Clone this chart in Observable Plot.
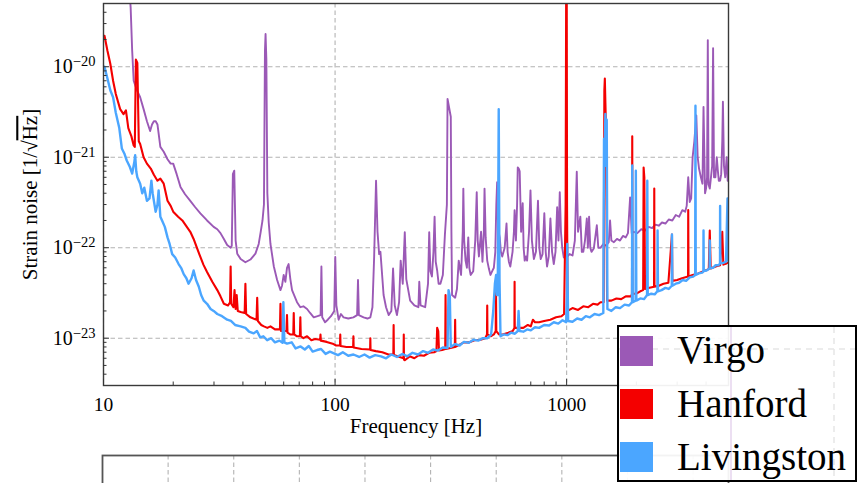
<!DOCTYPE html>
<html><head><meta charset="utf-8">
<script src="https://cdn.jsdelivr.net/npm/d3@7"></script>
<script src="https://cdn.jsdelivr.net/npm/@observablehq/plot@0.6"></script>
<style>
html,body{margin:0;padding:0;background:#fff;overflow:hidden;}
#wrap{position:relative;width:859px;height:483px;overflow:hidden;}
#main,#bottom,#legend{position:absolute;left:0;top:0;}
#bottom{top:454px;}
#legend{left:617px;top:325px;}
svg{background:transparent !important;}
</style>
</head><body>
<div id="wrap"><div id="main"></div><div id="bottom"></div><div id="legend"></div></div>
<script>
// ---- data (frequency Hz, amplitude spectral density 1/sqrt(Hz)) ----
const seriesNames = ["Virgo", "Hanford", "Livingston"];
const seriesColors = ["#9b59b6", "#f40000", "#4ba6ff"];

const virgo = [[12.9,8e-20],[13.1,4.5e-20],[13.3,1.5e-20],[13.5,7.0e-21],[13.9,5.6e-21],[14.4,4.6e-21],[14.9,3.4e-21],[15.4,2.5e-21],[15.9,1.95e-21],[16.2,2.3e-21],[16.5,2.5e-21],[16.8,2.5e-21],[17.1,2.3e-21],[17.6,1.3e-21],[18.2,1.15e-21],[18.9,9.5e-22],[19.5,8.5e-22],[20.0,8.5e-22],[20.7,6.5e-22],[21.5,4.7e-22],[22.5,3.9e-22],[23.7,3.3e-22],[24.9,2.8e-22],[26.2,2.4e-22],[28.0,2.0e-22],[29.9,1.7e-22],[31.0,1.6e-22],[32.0,1.45e-22],[33.1,1.25e-22],[34.2,1.07e-22],[35.4,1.0e-22],[35.8,1.05e-22],[36.2,6.5e-22],[36.7,7.1e-22],[37.2,1.2e-22],[37.8,8.6e-23],[39.1,7.5e-23],[41.0,6.9e-23],[43.1,7.4e-23],[45.3,8.6e-23],[46.8,1.1e-22],[47.7,1.48e-22],[48.6,2.0e-22],[49.3,3.0e-22],[49.8,1.5e-20],[50.1,2.3e-20],[50.5,1.2e-20],[51.0,4.0e-22],[51.7,1.9e-22],[52.6,1.1e-22],[54.4,6.2e-23],[56.2,4.4e-23],[58.1,3.4e-23],[59.0,3.8e-23],[60.0,5.0e-23],[61.0,4.2e-23],[62.0,6.0e-23],[63.0,6.6e-23],[64.1,4.5e-23],[65.2,3.4e-23],[68.5,2.5e-23],[70.8,2.2e-23],[73,2.25e-23],[75.7,2.1e-23],[78,1.9e-23],[80.9,1.7e-23],[84,1.75e-23],[86.6,1.8e-23],[87.3,6.2e-23],[88,1.7e-23],[90.5,1.5e-23],[93,1.6e-23],[96,1.75e-23],[99.2,2.0e-23],[100.2,7.9e-23],[101.3,2.3e-23],[103.6,1.6e-23],[106,1.85e-23],[108.8,1.7e-23],[114,1.65e-23],[120,1.7e-23],[124.5,1.8e-23],[125.6,4.4e-23],[126.7,1.8e-23],[132.8,1.7e-23],[138,1.65e-23],[142,1.7e-23],[145,2.2e-23],[147.5,8.0e-23],[150.3,5.5e-22],[152.5,1.5e-22],[155,8.5e-23],[157,9.0e-23],[162,3.0e-23],[166,2.2e-23],[170.5,1.8e-23],[175,2.0e-23],[178,5.9e-23],[181,2.3e-23],[185,1.8e-23],[189,2.5e-23],[192,7.2e-23],[196,4.0e-23],[200,1.48e-22],[203,4.5e-23],[211,2.6e-23],[220,2.3e-23],[229,2.2e-23],[231,4.2e-23],[234,2.3e-23],[245,2.2e-23],[252,4.0e-23],[255,1.48e-22],[258,5.5e-23],[262,4.8e-23],[266,9.0e-23],[269,2.2e-22],[272,7.0e-23],[276,5.6e-23],[280,4.0e-23],[285,4.0e-23],[292,5.0e-23],[298,1.38e-22],[304,3.0e-22],[306,4.4e-21],[311,3.5e-21],[316,2.8e-21],[318,1.5e-22],[320,3.0e-23],[330,2.8e-23],[336,3.5e-23],[342,7.2e-23],[350,5.0e-23],[356,1.5e-22],[358,4.5e-22],[361,1.2e-22],[366,7.2e-23],[371,6.0e-23],[376,1.3e-22],[380,6.0e-23],[385,5.0e-23],[395,5.5e-23],[403,1.2e-22],[409,4.1e-22],[413,1.2e-22],[418,8.0e-23],[427,1.5e-22],[433,7.0e-23],[439,1.5e-22],[442,4.5e-22],[447,1.3e-22],[454,7.2e-23],[462,5.8e-23],[469,5.0e-23],[477,5.5e-23],[485,6.0e-23],[492,9.0e-23],[497,3.0e-22],[501,5.3e-22],[506,1.6e-22],[514,1.3e-22],[520,9.0e-23],[527,8.0e-23],[540,1.0e-22],[550,1.85e-22],[556,9.0e-23],[563,7.0e-23],[571,6.2e-23],[584,9.0e-23],[592,1.5e-22],[596,2.6e-22],[604,1.2e-22],[611,3.0e-22],[615,7.7e-22],[621,7.5e-22],[627,7.0e-22],[636,1.5e-22],[646,3.1e-22],[652,1.0e-22],[659,7.2e-23],[667,8.0e-23],[675,7.2e-23],[688,1.5e-22],[698,4.3e-22],[708,1.2e-22],[722,7.5e-23],[737,9.0e-23],[752,3.3e-22],[762,1.0e-22],[773,7.5e-23],[787,8.5e-23],[801,2.4e-22],[812,9.0e-23],[823,6.2e-23],[837,8.0e-23],[851,2.1e-22],[865,9.0e-23],[880,6.6e-23],[895,9.0e-23],[910,2.8e-22],[922,1.2e-22],[934,4.1e-22],[945,1.5e-22],[957,1.0e-22],[972,7.8e-23],[990,8.5e-23],[1008,8.0e-23],[1030,8.5e-23],[1060,8.2e-23],[1085,1.2e-22],[1106,6.9e-22],[1120,1.5e-22],[1146,2.2e-22],[1163,9.0e-23],[1180,9.0e-23],[1200,1.2e-22],[1222,2.1e-22],[1235,1.0e-22],[1250,2.2e-22],[1265,1.0e-22],[1280,9.0e-23],[1310,9.8e-23],[1350,1.77e-22],[1370,1.0e-22],[1400,1.0e-22],[1440,1.1e-22],[1480,1.05e-22],[1520,1.15e-22],[1540,2.0e-22],[1560,1.2e-22],[1600,1.15e-22],[1650,1.25e-22],[1700,1.2e-22],[1750,1.35e-22],[1800,1.3e-22],[1840,1.45e-22],[1880,3.6e-22],[1910,1.45e-22],[1950,1.5e-22],[2020,1.45e-22],[2100,1.6e-22],[2180,1.55e-22],[2260,1.7e-22],[2340,1.65e-22],[2420,1.8e-22],[2500,1.75e-22],[2580,1.9e-22],[2670,1.85e-22],[2760,2.05e-22],[2860,2.0e-22],[2960,2.3e-22],[3060,2.2e-22],[3160,2.6e-22],[3250,2.5e-22],[3300,2.9e-22],[3350,6.0e-22],[3400,3.2e-22],[3450,3.5e-22],[3500,1.0e-21],[3560,1.5e-21],[3630,2.9e-21],[3680,1.0e-21],[3730,7.5e-22],[3800,6.0e-22],[3860,5.1e-22],[3900,3.6e-21],[3960,4.0e-22],[4000,4.5e-22],[4040,6.0e-22],[4070,1.97e-20],[4100,5.0e-22],[4150,4.5e-22],[4200,6.0e-22],[4250,8.0e-22],[4290,1.6e-20],[4330,6.0e-22],[4390,6.0e-22],[4450,1.0e-21],[4500,7.0e-22],[4540,5.5e-22],[4600,5.5e-22],[4650,6.5e-22],[4700,1.5e-21],[4730,4.1e-21],[4780,8.0e-22],[4840,6.0e-22],[4910,1.0e-21],[4960,5.5e-22],[5000,6.0e-22]];

const hanford = [[10.1,2.2e-20],[10.4,1.5e-20],[10.7,1.08e-20],[11.0,7.0e-21],[11.3,5.0e-21],[11.8,3.4e-21],[12.2,3.0e-21],[12.5,3.3e-21],[12.8,2.1e-21],[13.2,1.7e-21],[13.5,1.35e-21],[13.65,1.3e-21],[13.8,1.2e-20],[14.0,1.1e-20],[14.2,1.5e-21],[14.4,1.4e-21],[14.9,1.0e-21],[15.4,8.5e-22],[16.0,7.5e-22],[16.5,6.4e-22],[17.1,5.5e-22],[17.6,5.8e-22],[18.2,5.1e-22],[18.9,3.3e-22],[19.5,2.9e-22],[20.0,2.5e-22],[21.0,2.2e-22],[21.9,2.0e-22],[22.9,1.7e-22],[23.7,1.5e-22],[24.5,1.25e-22],[25.3,1.0e-22],[26.2,7.9e-23],[27.0,6.5e-23],[28.0,5.4e-23],[29.5,4.2e-23],[31.0,3.4e-23],[32.0,2.9e-23],[33.1,2.4e-23],[34.5,2.3e-23],[35.2,2.5e-23],[35.4,6.2e-23],[35.6,2.4e-23],[36.4,2.2e-23],[36.8,3.4e-23],[37.2,2.1e-23],[37.6,3.0e-23],[38.0,2.0e-23],[39.1,1.95e-23],[40.7,1.9e-23],[41.0,4.0e-23],[41.3,1.85e-23],[43.1,1.7e-23],[45.8,1.6e-23],[46.1,2.8e-23],[46.4,1.55e-23],[48.0,1.4e-23],[49.3,1.35e-23],[51.0,1.3e-23],[52.6,1.35e-23],[55.0,1.25e-23],[57.8,1.25e-23],[58.1,2.4e-23],[58.4,1.2e-23],[60.0,1.2e-23],[61.7,1.2e-23],[62.0,1.8e-23],[62.3,1.15e-23],[64.0,1.1e-23],[66.0,1.1e-23],[66.3,1.9e-23],[66.6,1.1e-23],[68.5,1.05e-23],[70.5,1.05e-23],[70.8,1.7e-23],[71.1,1.05e-23],[73.0,1.0e-23],[75.7,1.05e-23],[79.0,9.5e-24],[82.0,9.8e-24],[86.2,9.6e-24],[86.5,1.1e-23],[86.8,9.4e-24],[92.0,9.1e-24],[98.5,8.6e-24],[101,8.3e-24],[105,8.3e-24],[105.3,1.1e-23],[105.6,8.2e-24],[112,8.0e-24],[119.7,8.0e-24],[120,1.05e-23],[120.3,7.9e-24],[130,7.6e-24],[141.7,7.5e-24],[142,1.0e-23],[142.3,7.4e-24],[150,7.2e-24],[160,7.0e-24],[170,6.6e-24],[178.5,6.6e-24],[179,1.4e-23],[179.5,6.5e-24],[190,6.2e-24],[197.6,6.0e-24],[198,1.1e-23],[198.4,5.8e-24],[200,5.7e-24],[210,6.3e-24],[220,6.0e-24],[230,6.5e-24],[242,6.4e-24],[255,6.9e-24],[268,7.0e-24],[274,7.2e-24],[276,1.3e-23],[279,1.2e-23],[281,7.3e-24],[290,7.4e-24],[299,7.6e-24],[300,3.0e-23],[301,7.6e-24],[315,7.8e-24],[329,8.0e-24],[330,1.6e-23],[331,8.0e-24],[345,8.5e-24],[360,9.0e-24],[380,9.0e-24],[400,9.5e-24],[425,9.6e-24],[445,1.0e-23],[453,1.1e-23],[454,2.3e-23],[455,1.1e-23],[470,1.05e-23],[485,1.1e-23],[494,1.2e-23],[495,4.3e-23],[497,1.2e-23],[510,1.1e-23],[530,1.1e-23],[560,1.15e-23],[585,1.2e-23],[595,1.3e-23],[596,4.2e-23],[597,1.3e-23],[620,1.3e-23],[650,1.3e-23],[680,1.4e-23],[700,1.35e-23],[715,1.6e-23],[730,1.5e-23],[760,1.5e-23],[800,1.55e-23],[850,1.6e-23],[900,1.7e-23],[950,1.75e-23],[975,1.85e-23],[990,3.0e-22],[995,5e-20],[998,5e-20],[1001,5e-20],[1004,3.0e-22],[1010,2.0e-23],[1060,2.15e-23],[1120,2.05e-23],[1180,2.25e-23],[1240,2.2e-23],[1300,2.4e-23],[1360,2.35e-23],[1400,2.5e-23],[1445,2.5e-23],[1455,5.5e-21],[1462,7.4e-21],[1470,4.0e-21],[1480,2.0e-21],[1495,2.6e-23],[1560,2.6e-23],[1640,2.75e-23],[1720,2.7e-23],[1800,2.9e-23],[1900,2.9e-23],[1915,3.1e-23],[1920,1.7e-21],[1925,3.1e-23],[2000,3.1e-23],[2080,3.3e-23],[2140,3.4e-23],[2150,7.7e-22],[2165,6.0e-22],[2180,3.5e-23],[2280,3.6e-23],[2385,3.7e-23],[2390,4.5e-22],[2395,3.7e-23],[2500,3.8e-23],[2620,4.0e-23],[2750,4.1e-23],[2850,1.4e-22],[2860,4.3e-23],[3000,4.4e-23],[3150,4.6e-23],[3345,4.8e-23],[3350,2.6e-22],[3360,4.8e-23],[3500,5.0e-23],[3700,5.2e-23],[3900,5.5e-23],[4110,5.8e-23],[4150,1.55e-22],[4190,5.9e-23],[4400,6.2e-23],[4600,6.4e-23],[4700,1.5e-22],[4750,6.5e-23],[4900,6.7e-23],[5000,6.9e-23]];

const livingston = [[10.1,1.0e-20],[10.4,7.4e-21],[10.7,5.5e-21],[11.0,4.6e-21],[11.3,3.1e-21],[11.7,2.1e-21],[12.0,1.25e-21],[12.3,1.1e-21],[12.6,9.2e-22],[13.0,7.8e-22],[13.3,6.6e-22],[13.6,9.0e-22],[13.7,1.05e-21],[13.85,7.0e-22],[14.0,6.0e-22],[14.4,5.1e-22],[14.7,4.0e-22],[15.0,4.6e-22],[15.4,3.3e-22],[15.8,3.5e-22],[16.1,5.5e-22],[16.3,4.0e-22],[16.8,2.5e-22],[17.1,3.0e-22],[17.3,4.3e-22],[17.6,2.2e-22],[17.9,2.0e-22],[18.4,1.7e-22],[18.9,1.3e-22],[19.3,1.1e-22],[19.8,8.5e-23],[20.4,7.8e-23],[21.1,6.6e-23],[21.7,5.9e-23],[22.2,5.1e-23],[22.8,4.6e-23],[23.3,4.0e-23],[24.0,4.6e-23],[24.5,5.6e-23],[25.1,4.4e-23],[25.8,3.7e-23],[26.4,3.0e-23],[27.1,2.6e-23],[28.0,2.4e-23],[29.0,2.1e-23],[29.9,2.0e-23],[31.0,1.85e-23],[32.5,1.75e-23],[34.2,1.6e-23],[35.5,1.55e-23],[37.0,1.4e-23],[39.1,1.35e-23],[41.0,1.3e-23],[42.5,1.18e-23],[44.5,1.13e-23],[46.0,1.2e-23],[47.5,1.02e-23],[49.0,1.05e-23],[50.9,9.5e-24],[53.0,1.0e-23],[55.0,9.0e-24],[57.5,9.4e-24],[59.3,8.9e-24],[59.8,2.5e-23],[60.4,9.0e-24],[62.0,8.7e-24],[65.0,9.0e-24],[67.5,7.7e-24],[71.0,8.1e-24],[74.0,7.5e-24],[77.0,8.2e-24],[80.0,7.1e-24],[83.6,7.4e-24],[87.0,7.6e-24],[91.0,6.7e-24],[95.0,7.1e-24],[98.9,6.8e-24],[103,6.5e-24],[108,7.0e-24],[114,6.4e-24],[120,6.6e-24],[127,6.2e-24],[134,6.6e-24],[141,6.1e-24],[149,6.5e-24],[158,6.3e-24],[166,6.0e-24],[175,6.6e-24],[185,6.2e-24],[195,6.7e-24],[205,6.3e-24],[216,6.9e-24],[228,6.6e-24],[240,7.2e-24],[252,6.9e-24],[265,7.5e-24],[278,7.3e-24],[292,7.9e-24],[306,7.8e-24],[309,3.4e-23],[313,2.9e-23],[316,8.0e-24],[330,8.6e-24],[345,8.3e-24],[360,9.1e-24],[378,8.9e-24],[396,9.6e-24],[415,9.4e-24],[435,1.0e-23],[455,1.0e-23],[472,1.1e-23],[482,2.0e-23],[490,4.0e-23],[496,5.0e-23],[500,3.0e-23],[504,3.0e-23],[509,3.4e-21],[513,4.5e-23],[518,1.05e-23],[535,1.1e-23],[555,1.08e-23],[575,1.15e-23],[598,1.12e-23],[615,1.2e-23],[620,2.0e-23],[626,1.2e-23],[650,1.18e-23],[675,1.25e-23],[700,1.22e-23],[730,1.32e-23],[760,1.3e-23],[800,1.4e-23],[840,1.38e-23],[880,1.5e-23],[920,1.45e-23],[960,1.58e-23],[995,1.5e-23],[1003,3.0e-23],[1006,1.1e-22],[1010,4.0e-23],[1015,1.55e-23],[1060,1.52e-23],[1110,1.65e-23],[1160,1.6e-23],[1210,1.75e-23],[1260,1.7e-23],[1320,1.85e-23],[1380,1.8e-23],[1440,1.9e-23],[1450,1.6e-21],[1460,1.2e-21],[1470,3.0e-21],[1480,8.0e-22],[1490,2.6e-21],[1500,2.1e-23],[1560,2.0e-23],[1630,2.2e-23],[1700,2.15e-23],[1780,2.35e-23],[1860,2.3e-23],[1915,2.5e-23],[1920,8.1e-22],[1930,2.5e-23],[1985,2.6e-23],[1990,7.1e-22],[2000,2.6e-23],[2080,2.75e-23],[2160,2.7e-23],[2225,3.0e-23],[2230,5.5e-22],[2240,3.0e-23],[2320,3.1e-23],[2400,3.05e-23],[2465,3.3e-23],[2470,1.55e-22],[2480,3.3e-23],[2570,3.4e-23],[2670,3.6e-23],[2760,3.5e-23],[2845,3.8e-23],[2850,1.4e-22],[2860,3.8e-23],[2960,4.0e-23],[3060,4.1e-23],[3170,4.4e-23],[3280,4.3e-23],[3400,4.7e-23],[3520,4.8e-23],[3590,5.0e-23],[3600,3.7e-21],[3610,5.0e-23],[3720,5.2e-23],[3850,5.3e-23],[3895,5.5e-23],[3900,1.55e-22],[3910,5.5e-23],[4020,5.6e-23],[4140,5.9e-23],[4150,1.2e-22],[4160,5.9e-23],[4280,6.0e-23],[4400,6.4e-23],[4520,6.4e-23],[4595,6.7e-23],[4600,2.9e-22],[4610,6.7e-23],[4750,6.8e-23],[4880,7.0e-23],[4950,3.5e-22],[5000,7.2e-23]];

// ---- ticks ----
const xMajor = [10, 100, 1000];
const xMinor = [20,30,40,50,60,70,80,90,200,300,400,500,600,700,800,900,2000,3000,4000];
const yMajor = [1e-23, 1e-22, 1e-21, 1e-20];
const yMinor = [4e-24,5e-24,6e-24,7e-24,8e-24,9e-24,2e-23,3e-23,4e-23,5e-23,6e-23,7e-23,8e-23,9e-23,2e-22,3e-22,4e-22,5e-22,6e-22,7e-22,8e-22,9e-22,2e-21,3e-21,4e-21,5e-21,6e-21,7e-21,8e-21,9e-21,2e-20,3e-20,4e-20];
const xTitle = "Frequency [Hz]";
const yTitle = "Strain noise [1/√Hz]";
const bottomGridTicks = [1,2,3,4,5,6,7,8,9];

const rows = arr => arr.map(([f, s]) => ({f, s}));
const gridStyle = {stroke: "#b3b3b3", strokeOpacity: 1, strokeDasharray: "4.5,3", strokeWidth: 1.1};
const font = '"Liberation Serif", "Times New Roman", serif';

const chart = Plot.plot({
  width: 859, height: 483,
  marginTop: 3, marginBottom: 98, marginLeft: 103, marginRight: 131,
  style: {fontFamily: font, fontSize: "19.5px", color: "#000", background: "transparent"},
  x: {type: "log", domain: [10, 5000]},
  y: {type: "log", domain: [3e-24, 5e-20]},
  marks: [
    Plot.gridX(xMajor, gridStyle),
    Plot.gridY(yMajor, gridStyle),
    Plot.line(rows(virgo), {x: "f", y: "s", stroke: seriesColors[0], strokeWidth: 1.9, clip: true}),
    Plot.line(rows(hanford), {x: "f", y: "s", stroke: seriesColors[1], strokeWidth: 2.1, clip: true}),
    Plot.line(rows(livingston), {x: "f", y: "s", stroke: seriesColors[2], strokeWidth: 2.4, clip: true}),
    Plot.frame({stroke: "#3a3a3a", strokeWidth: 1.4}),
    Plot.axisX(xMinor, {tickSize: 3.5, dy: -3.5, fill: "none", label: null, stroke: "#333"}),
    Plot.axisX(xMajor, {tickSize: 6, dy: -6, fill: "none", label: null, stroke: "#333"}),
    Plot.axisX(xMajor, {tickSize: 0, tickPadding: 12, tickFormat: d => String(d), label: null, fontSize: 19.5}),
    Plot.axisY(yMinor, {tickSize: 3.5, dx: 3.5, fill: "none", label: null, stroke: "#333"}),
    Plot.axisY(yMajor, {tickSize: 6, dx: 6, fill: "none", label: null, stroke: "#333"}),
    Plot.axisY(yMajor, {tickSize: 0, tickPadding: 8, tickFormat: d => "E" + Math.round(Math.log10(d)), label: null, fontSize: 20}),
    Plot.text([xTitle], {text: d => d, frameAnchor: "bottom", dy: 47, fontSize: 21}),
    Plot.text([yTitle], {text: d => d, frameAnchor: "left", textAnchor: "middle", dx: -73, rotate: -90, fontSize: 21})
  ]
});
document.getElementById("main").appendChild(chart);

// exponent labels 10^n and overline on sqrt(Hz)
d3.select(chart).selectAll("text").each(function() {
  const t = this.textContent;
  const sel = d3.select(this);
  if (/^E-\d+$/.test(t)) {
    sel.text(null);
    sel.append("tspan").text("10");
    sel.append("tspan").attr("dy", "-7").attr("font-size", "14.5px").text("\u2212" + t.slice(2));
  } else if (t === yTitle) {
    sel.text(null);
    sel.append("tspan").text("Strain noise [1/√");
    sel.append("tspan").style("text-decoration", "overline").text("Hz");
    sel.append("tspan").text("]");
  }
});

// lower panel (partially visible)
const bottom = Plot.plot({
  width: 859, height: 80,
  marginTop: 1, marginBottom: 10, marginLeft: 102, marginRight: 131,
  style: {background: "transparent"},
  x: {domain: [0, 9.54], axis: null},
  y: {domain: [0, 1], axis: null},
  marks: [
    Plot.gridX(bottomGridTicks, gridStyle),
    Plot.frame({stroke: "#555", strokeWidth: 1.8})
  ]
});
document.getElementById("bottom").appendChild(bottom);

// legend
const lg = d3.select("#legend").append("svg").attr("width", 242).attr("height", 158);
lg.append("rect").attr("x", 1).attr("y", 1).attr("width", 238).attr("height", 155)
  .attr("fill", "#fff").attr("fill-opacity", 0.93).attr("stroke", "#000").attr("stroke-width", 2);
lg.append("line").attr("x1", 114).attr("x2", 114).attr("y1", 2).attr("y2", 155).attr("stroke", "#ecdff2").attr("stroke-width", 2);
lg.append("line").attr("x1", 217).attr("x2", 217).attr("y1", 2).attr("y2", 155).attr("stroke", "#e6e6e6").attr("stroke-dasharray", "6,5").attr("stroke-width", 1.5);
lg.append("line").attr("x1", 2).attr("x2", 238).attr("y1", 24).attr("y2", 24).attr("stroke", "#e6e6e6").attr("stroke-dasharray", "6,5").attr("stroke-width", 1.5);
seriesNames.forEach((name, i) => {
  lg.append("rect").attr("x", 3).attr("y", 11 + i * 53).attr("width", 33).attr("height", 30).attr("fill", seriesColors[i]);
  lg.append("text").attr("x", 60).attr("y", 38 + i * 53.5).attr("font-family", font).attr("font-size", 39).attr("fill", "#000").text(name);
});
</script>
</body></html>
